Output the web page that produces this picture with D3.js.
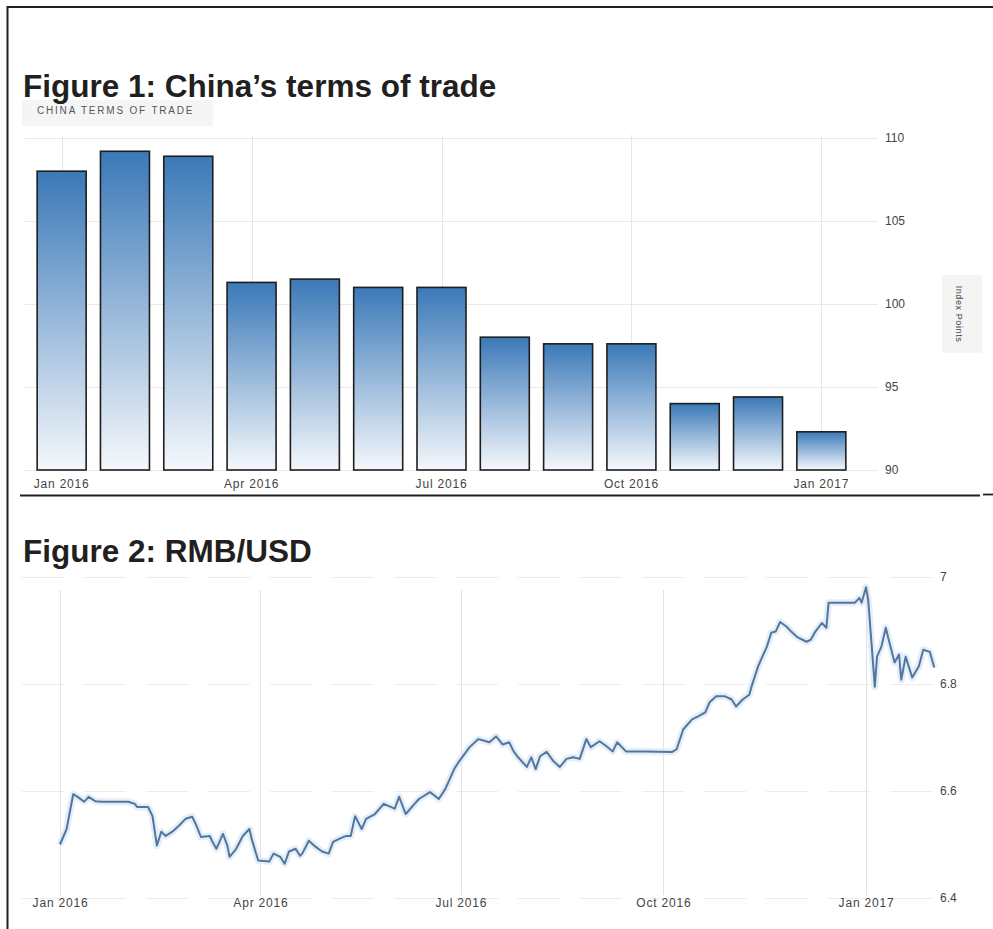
<!DOCTYPE html>
<html><head><meta charset="utf-8">
<script src="https://cdn.jsdelivr.net/npm/d3@7"></script>
<style>
html,body{margin:0;padding:0;background:#fff;}
svg{display:block;font-family:"Liberation Sans",Arial,sans-serif;}
</style></head>
<body><svg id="c" width="993" height="929"></svg>
<script>
// ---------- DATA ----------
const barCategories = ["2016-01","2016-02","2016-03","2016-04","2016-05","2016-06","2016-07","2016-08","2016-09","2016-10","2016-11","2016-12","2017-01"];
const barValues = [108.0, 109.2, 108.9, 101.3, 101.5, 101.0, 101.0, 98.0, 97.6, 97.6, 94.0, 94.4, 92.3];
const barTickCats = ["2016-01","2016-04","2016-07","2016-10","2017-01"];
const barTickLabels = ["Jan 2016","Apr 2016","Jul 2016","Oct 2016","Jan 2017"];
const barYTicks = [90, 95, 100, 105, 110];

const fxDates = ["2016-01-01","2016-01-04","2016-01-07","2016-01-09","2016-01-12","2016-01-14","2016-01-17","2016-01-20","2016-02-01","2016-02-04","2016-02-05","2016-02-10","2016-02-12","2016-02-14","2016-02-16","2016-02-18","2016-02-21","2016-02-24","2016-02-27","2016-03-01","2016-03-03","2016-03-05","2016-03-09","2016-03-10","2016-03-12","2016-03-15","2016-03-17","2016-03-18","2016-03-21","2016-03-24","2016-03-27","2016-03-28","2016-03-31","2016-04-05","2016-04-07","2016-04-10","2016-04-12","2016-04-14","2016-04-17","2016-04-19","2016-04-20","2016-04-23","2016-04-26","2016-04-29","2016-05-02","2016-05-04","2016-05-07","2016-05-10","2016-05-12","2016-05-14","2016-05-17","2016-05-19","2016-05-23","2016-05-27","2016-06-01","2016-06-03","2016-06-06","2016-06-10","2016-06-12","2016-06-17","2016-06-21","2016-06-24","2016-06-28","2016-06-30","2016-07-05","2016-07-09","2016-07-14","2016-07-17","2016-07-20","2016-07-23","2016-07-25","2016-07-27","2016-07-31","2016-08-02","2016-08-04","2016-08-06","2016-08-09","2016-08-12","2016-08-15","2016-08-18","2016-08-21","2016-08-24","2016-08-27","2016-08-29","2016-09-02","2016-09-05","2016-09-08","2016-09-10","2016-09-14","2016-09-23","2016-10-05","2016-10-07","2016-10-10","2016-10-14","2016-10-17","2016-10-20","2016-10-22","2016-10-25","2016-10-29","2016-11-01","2016-11-03","2016-11-06","2016-11-09","2016-11-10","2016-11-13","2016-11-17","2016-11-19","2016-11-21","2016-11-23","2016-11-26","2016-11-28","2016-12-01","2016-12-05","2016-12-07","2016-12-09","2016-12-12","2016-12-14","2016-12-15","2016-12-20","2016-12-27","2016-12-29","2016-12-30","2017-01-01","2017-01-02","2017-01-05","2017-01-06","2017-01-08","2017-01-10","2017-01-11","2017-01-14","2017-01-16","2017-01-17","2017-01-19","2017-01-22","2017-01-25","2017-01-27","2017-01-30","2017-02-01"];
const fxValues = [6.500,6.529,6.594,6.589,6.580,6.589,6.581,6.580,6.580,6.576,6.570,6.570,6.553,6.498,6.524,6.516,6.524,6.535,6.548,6.552,6.535,6.514,6.516,6.507,6.492,6.520,6.498,6.477,6.492,6.516,6.529,6.511,6.470,6.468,6.483,6.477,6.464,6.487,6.492,6.479,6.483,6.507,6.496,6.487,6.483,6.505,6.511,6.516,6.516,6.553,6.529,6.548,6.557,6.576,6.567,6.589,6.557,6.576,6.585,6.598,6.585,6.604,6.641,6.654,6.682,6.697,6.691,6.702,6.687,6.691,6.674,6.663,6.645,6.663,6.641,6.665,6.673,6.656,6.645,6.660,6.663,6.660,6.697,6.682,6.693,6.684,6.674,6.691,6.674,6.674,6.673,6.678,6.715,6.734,6.740,6.747,6.766,6.777,6.777,6.771,6.758,6.771,6.780,6.795,6.833,6.870,6.896,6.898,6.916,6.907,6.898,6.887,6.879,6.883,6.898,6.914,6.905,6.952,6.952,6.952,6.961,6.952,6.981,6.957,6.795,6.851,6.870,6.905,6.888,6.840,6.855,6.808,6.851,6.812,6.833,6.864,6.860,6.831];
const fxTickDates = ["2016-01-01","2016-04-01","2016-07-01","2016-10-01","2017-01-01"];
const fxTickLabels = ["Jan 2016","Apr 2016","Jul 2016","Oct 2016","Jan 2017"];
const fxYTicks = [6.4, 6.6, 6.8, 7];

// ---------- DRAW ----------
const svg = d3.select("#c");
const parse = d3.timeParse("%Y-%m-%d");

// frame lines
svg.append("line").attr("x1",7).attr("x2",993).attr("y1",7).attr("y2",7).attr("stroke","#231f20").attr("stroke-width",2);
svg.append("line").attr("x1",7.5).attr("x2",7.5).attr("y1",6).attr("y2",929).attr("stroke","#231f20").attr("stroke-width",2);
svg.append("line").attr("x1",20).attr("x2",980).attr("y1",495.5).attr("y2",495.5).attr("stroke","#231f20").attr("stroke-width",1.8);
svg.append("line").attr("x1",983).attr("x2",993).attr("y1",494.5).attr("y2",494.5).attr("stroke","#231f20").attr("stroke-width",1.8);

// subtitle box (drawn before title so descenders stay visible)
svg.append("rect").attr("x",22).attr("y",100).attr("width",191).attr("height",26).attr("fill","#f5f5f5");
svg.append("text").attr("x",37).attr("y",114).attr("font-size",10).attr("letter-spacing",1.8).attr("fill","#555").text("CHINA TERMS OF TRADE");

// titles
svg.append("text").attr("x",23).attr("y",97).attr("font-size",31.5).attr("font-weight","bold").attr("fill","#231f20").text("Figure 1: China\u2019s terms of trade");
svg.append("text").attr("x",23).attr("y",562).attr("font-size",31.5).attr("font-weight","bold").attr("fill","#231f20").text("Figure 2: RMB/USD");

// ---- Figure 1: bars ----
const defs = svg.append("defs");
const grad = defs.append("linearGradient").attr("id","barGrad").attr("x1",0).attr("y1",0).attr("x2",0).attr("y2",1);
grad.append("stop").attr("offset","0%").attr("stop-color","#3b79b8");
grad.append("stop").attr("offset","100%").attr("stop-color","#f5f8fc");

const xb = d3.scaleBand().domain(barCategories).range([30, 853]).paddingInner(0.226).paddingOuter(0.113);
const yb = d3.scaleLinear().domain([90, 110]).range([470, 138]);

const g1 = svg.append("g");
// grid
g1.selectAll("line.hg").data(barYTicks).join("line")
  .attr("x1",25).attr("x2",878).attr("y1",d=>yb(d)+0.5).attr("y2",d=>yb(d)+0.5)
  .attr("stroke","#e9e9e9").attr("stroke-width",1);
g1.selectAll("line.vg").data(barTickCats).join("line")
  .attr("x1",d=>Math.round(xb(d)+xb.bandwidth()/2)+0.5).attr("x2",d=>Math.round(xb(d)+xb.bandwidth()/2)+0.5)
  .attr("y1",135).attr("y2",470).attr("stroke","#e6e6e6");

g1.selectAll("rect.bar").data(barValues).join("rect")
  .attr("x",(d,i)=>xb(barCategories[i]))
  .attr("width",xb.bandwidth())
  .attr("y",d=>yb(d))
  .attr("height",d=>yb(90)-yb(d))
  .attr("fill","url(#barGrad)")
  .attr("stroke","#1e1e1e").attr("stroke-width",1.6);

// x axis labels
const xAxis1 = d3.axisBottom(xb).tickValues(barTickCats).tickFormat((d,i)=>barTickLabels[i]).tickSize(0).tickPadding(0);
const ax1 = svg.append("g").attr("transform","translate(0,479)").call(xAxis1);
ax1.select(".domain").remove();
ax1.selectAll("text").attr("font-size",12).attr("letter-spacing",0.8).attr("fill","#444").attr("font-family","Liberation Sans, Arial, sans-serif");

// y axis labels (right)
const yAxis1 = d3.axisRight(yb).tickValues(barYTicks).tickFormat(d3.format("d")).tickSize(0).tickPadding(0);
const ay1 = svg.append("g").attr("transform","translate(885,0)").call(yAxis1);
ay1.select(".domain").remove();
ay1.selectAll("text").attr("font-size",12).attr("fill","#444").attr("font-family","Liberation Sans, Arial, sans-serif");

// right axis title
svg.append("rect").attr("x",942).attr("y",275).attr("width",40).attr("height",78).attr("fill","#f4f4f4");
svg.append("text").attr("transform","translate(956,314) rotate(90)").attr("text-anchor","middle").attr("font-size",9).attr("letter-spacing",0.6).attr("fill","#444").text("Index Points");

// ---- Figure 2: line ----
const xl = d3.scaleTime().domain([parse("2016-01-01"), parse("2017-01-01")]).range([60, 866]);
const yl = d3.scaleLinear().domain([6.4, 7]).range([898, 577]);
const g2 = svg.append("g");
g2.selectAll("line.hg").data(fxYTicks).join("line")
  .attr("x1",22).attr("x2",932).attr("y1",d=>Math.round(yl(d))+0.5).attr("y2",d=>Math.round(yl(d))+0.5)
  .attr("stroke","#ececec").attr("stroke-dasharray","42,20");
g2.selectAll("line.vg").data(fxTickDates).join("line")
  .attr("x1",d=>Math.round(xl(parse(d)))+0.5).attr("x2",d=>Math.round(xl(parse(d)))+0.5)
  .attr("y1",590).attr("y2",895).attr("stroke","#e3e3e3");

const pts = fxDates.map((d,i)=>[parse(d), fxValues[i]]);
const lineGen = d3.line().x(d=>xl(d[0])).y(d=>yl(d[1]));
g2.append("path").datum(pts).attr("d",lineGen).attr("fill","none").attr("stroke","#d9e7f5").attr("stroke-width",7).attr("stroke-linejoin","round").attr("opacity",0.7);
g2.append("path").datum(pts).attr("d",lineGen).attr("fill","none").attr("stroke","#52769c").attr("stroke-width",2).attr("stroke-linejoin","round");

const xAxis2 = d3.axisBottom(xl).tickValues(fxTickDates.map(parse)).tickFormat((d,i)=>fxTickLabels[i]).tickSize(0).tickPadding(0);
const ax2 = svg.append("g").attr("transform","translate(0,898)").call(xAxis2);
ax2.select(".domain").remove();
ax2.selectAll("text").attr("font-size",12).attr("letter-spacing",0.8).attr("fill","#444").attr("font-family","Liberation Sans, Arial, sans-serif");

const yAxis2 = d3.axisRight(yl).tickValues(fxYTicks).tickFormat(d=>d===7?"7":d3.format(".1f")(d)).tickSize(0).tickPadding(0);
const ay2 = svg.append("g").attr("transform","translate(940,0)").call(yAxis2);
ay2.select(".domain").remove();
ay2.selectAll("text").attr("font-size",12).attr("fill","#444").attr("font-family","Liberation Sans, Arial, sans-serif");
</script></body></html>
